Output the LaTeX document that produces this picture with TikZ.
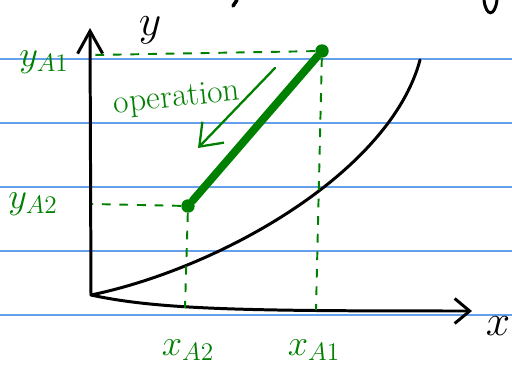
\documentclass[tikz,border=0pt]{standalone}
\usepackage{amsmath}
\usepackage{tikz}
\usetikzlibrary{arrows.meta}
\usepackage{xcolor}
\definecolor{penGreen}{RGB}{0,128,0}
\definecolor{ruleBlue}{RGB}{100,160,235}

\begin{document}
\begin{tikzpicture}[x=0.02cm,y=-0.02cm,
		axis/.style={line width=1.7pt,black,line cap=round,line join=round},
		guide/.style={penGreen,line width=1.1pt,dash pattern=on 5pt off 5pt},
		dot/.style={circle,fill=penGreen,inner sep=0pt,minimum size=0.27cm},
		lbl/.style={penGreen,font=\huge}]
			
			% page
			\useasboundingbox (0,0) rectangle (512,372);
			\fill[white] (0,0) rectangle (512,372);
			
			% ruled lines
			\foreach \r in {59,123,187,251,315}
				\draw[ruleBlue,line width=0.6pt] (0,\r) -- (512,\r);
			
			% cut-off strokes at the top
			\draw[line width=2pt,line cap=round] (233,6) -- (237,0);
			\draw[line width=1.7pt] (484,0) .. controls (486,17) and (495,17) .. (497,0);
			
			% axes
			\coordinate (o) at (91,295);
			\coordinate (ytip) at (90,28);
			\coordinate (xtip) at (472,311);
			\draw[axis,-{Straight Barb[length=4.5mm,width=5mm]}] (o) -- (ytip);
			\draw[axis,-{Straight Barb[length=3mm,width=5mm]}] (o) .. controls (160,310) and (250,311) .. (xtip);
			\node[font=\fontsize{34}{40}\selectfont,inner sep=1pt] (ylab) at (150,30) {$y$};
			\node[font=\fontsize{36}{42}\selectfont] (xlab) at (498,326) {$x$};
			
			% curve
			\coordinate (cend) at (420,60);
			\draw[axis] (o) .. controls (221,268) and (390,172) .. (cend);
			
			% points
			\node[dot] (a1) at (322,51) {};
			\node[dot] (a2) at (188,206) {};
			
			% projections
			\coordinate (ya1) at (93,55);
			\coordinate (xa1) at (316,310);
			\coordinate (ya2) at (92,204);
			\coordinate (xa2) at (185,308);
			\draw[guide] (a1) -- (ya1);
			\draw[guide] (a1) -- (xa1);
			\draw[guide] (a2) -- (ya2);
			\draw[guide] (a2) -- (xa2);
			
			% move from A1 to A2
			\draw[penGreen,line width=4.5pt,line cap=round] (a1) -- (a2);
			
			% operation arrow
			\coordinate (opstart) at (275,68);
			\coordinate (opend) at (198,148);
			\draw[penGreen,line width=1.3pt,line cap=round,-{Straight Barb[length=4mm,width=6mm]}] (opstart) -- (opend);
			\node[penGreen,font=\fontsize{19}{22}\selectfont,rotate=6] (op) at (177,99) {operation};
			
			% labels
			\node[lbl] (ya1lab) at (44,62) {$y_{A1}$};
			\node[lbl] (ya2lab) at (33,204) {$y_{A2}$};
			\node[lbl] (xa2lab) at (188,350) {$x_{A2}$};
			\node[lbl] (xa1lab) at (314,350) {$x_{A1}$};
			
		\end{tikzpicture}
\end{document}
